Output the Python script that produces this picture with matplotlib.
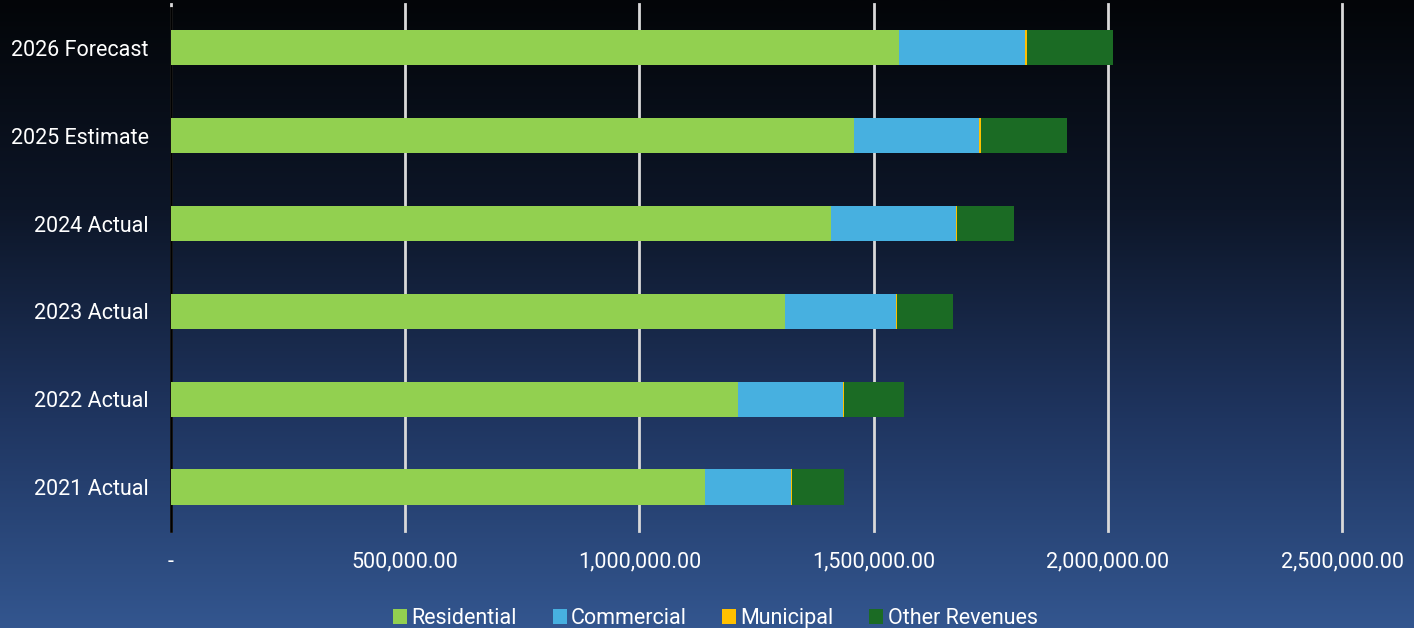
import matplotlib.pyplot as plt
import matplotlib.colors as mcolors
import numpy as np
from matplotlib.ticker import FuncFormatter

plt.rcParams['font.family'] = ['Roboto', 'DejaVu Sans']

categories = ['2021 Actual', '2022 Actual', '2023 Actual', '2024 Actual',
              '2025 Estimate', '2026 Forecast']
residential = [1140000, 1210000, 1311000, 1409000, 1458000, 1554000]
commercial = [184000, 225000, 237000, 267000, 267000, 269000]
municipal = [2500, 2500, 3000, 3000, 4000, 4000]
other_revenues = [111000, 128000, 118000, 121000, 184000, 184000]

series = [('Residential', residential, '#92D050'),
          ('Commercial', commercial, '#47B0E0'),
          ('Municipal', municipal, '#FFC000'),
          ('Other Revenues', other_revenues, '#1B6B24')]

fig = plt.figure(figsize=(14.14, 6.28), dpi=100)

# gradient background
bg = fig.add_axes([0, 0, 1, 1], zorder=-10)
grad = np.linspace(0, 1, 256).reshape(-1, 1)
cmap = mcolors.LinearSegmentedColormap.from_list(
    'bg', ['#030508', '#0d1628', '#1f3560', '#33568f'])
bg.imshow(grad, aspect='auto', cmap=cmap, extent=[0, 1, 0, 1])
bg.axis('off')

ax = fig.add_axes([0.1209, 0.1545, 0.8282, 0.8391])
ax.set_facecolor('none')

y = np.arange(len(categories))
left = np.zeros(len(categories))
for name, vals, col in series:
    ax.barh(y, vals, left=left, height=0.4, color=col, label=name, zorder=3)
    left += np.array(vals)

ax.set_xlim(0, 2500000)
ax.set_ylim(-0.5, len(categories) - 0.5)
ax.set_yticks(y)
ax.set_yticklabels(categories, color='white', fontsize=15.5)
ax.set_xticks(np.arange(0, 2500001, 500000))
ax.xaxis.set_major_formatter(FuncFormatter(
    lambda v, p: '-' if v == 0 else f'{v:,.2f}'))
ax.tick_params(axis='x', colors='white', labelsize=15.5, length=0, pad=15)
ax.tick_params(axis='y', length=0, pad=16)
ax.grid(axis='x', color='#d9d9d9', linewidth=2, zorder=0)
for gl in ax.get_xgridlines():
    gl.set_clip_on(False)
for s in ['top', 'right', 'bottom']:
    ax.spines[s].set_visible(False)
ax.spines['left'].set_color('black')
ax.spines['left'].set_linewidth(2)
ax.spines['left'].set_bounds(-0.5, 5.45)

leg = fig.legend(loc='lower center', bbox_to_anchor=(0.506, -0.032), ncol=4,
                 frameon=False, fontsize=15.5, handlelength=0.65,
                 handleheight=0.7, handletextpad=0.2, columnspacing=1.65)
for t in leg.get_texts():
    t.set_color('white')

fig.savefig('out.png', dpi=100)
